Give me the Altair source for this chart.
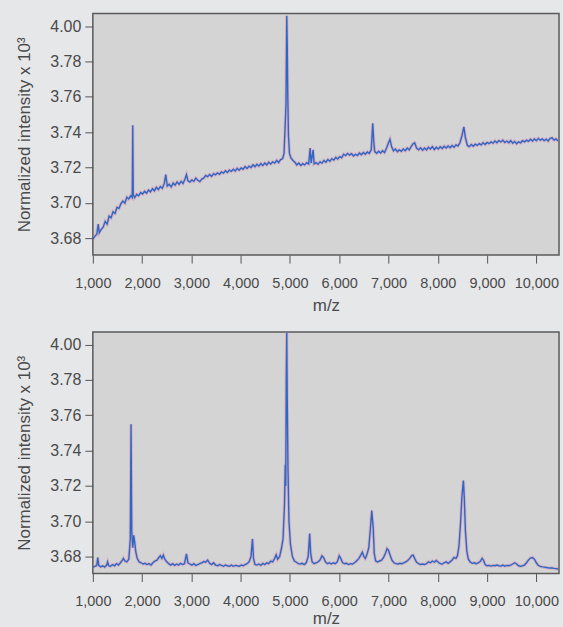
import altair as alt
import pandas as pd

# ---- Top panel spectrum (m/z, normalized intensity x10^3) ----
top_mz = [1000,1040,1080,1110,1130,1170,1210,1250,1290,1330,1370,1410,1450,1490,1530,1570,1610,1650,1690,1730,1770,1800,1810,1820,1850,1890,1930,1970,2010,2050,2090,2130,2170,2210,2250,2290,2330,2370,2410,2450,2480,2510,2550,2590,2630,2670,2710,2750,2790,2830,2870,2900,2930,2970,3010,3050,3090,3130,3170,3210,3250,3290,3330,3370,3410,3450,3490,3530,3570,3610,3650,3690,3730,3770,3810,3850,3890,3930,3970,4010,4050,4090,4130,4170,4210,4250,4290,4330,4370,4410,4450,4490,4530,4570,4610,4650,4690,4730,4770,4810,4850,4880,4905,4920,4935,4945,4955,4970,4990,5020,5060,5100,5140,5180,5220,5260,5300,5340,5380,5410,5430,5470,5490,5530,5570,5610,5650,5690,5730,5770,5810,5850,5890,5930,5970,6010,6050,6090,6130,6170,6210,6250,6290,6330,6370,6410,6450,6490,6530,6570,6610,6650,6680,6700,6720,6760,6800,6840,6880,6920,6960,7000,7030,7060,7100,7140,7180,7220,7260,7300,7340,7380,7420,7460,7500,7530,7570,7610,7650,7690,7730,7770,7810,7850,7890,7930,7970,8010,8050,8090,8130,8170,8210,8250,8290,8330,8370,8410,8450,8490,8530,8560,8600,8640,8680,8720,8760,8800,8840,8880,8920,8960,9000,9040,9080,9120,9160,9200,9240,9280,9320,9360,9400,9440,9480,9520,9560,9600,9640,9680,9720,9760,9800,9840,9880,9920,9960,10000,10040,10080,10120,10160,10200,10240,10280,10320,10360,10400,10440]
top_int = [3.6795,3.6810,3.6822,3.6880,3.6830,3.6850,3.6862,3.6895,3.6880,3.6925,3.6915,3.6950,3.6940,3.6975,3.6968,3.6995,3.7010,3.6998,3.7032,3.7022,3.7040,3.7030,3.7440,3.7045,3.7030,3.7048,3.7040,3.7058,3.7050,3.7065,3.7055,3.7072,3.7062,3.7080,3.7068,3.7088,3.7075,3.7092,3.7082,3.7110,3.7160,3.7095,3.7105,3.7090,3.7112,3.7100,3.7118,3.7105,3.7122,3.7110,3.7135,3.7160,3.7125,3.7118,3.7130,3.7122,3.7140,3.7128,3.7120,3.7135,3.7140,3.7155,3.7148,3.7160,3.7150,3.7165,3.7158,3.7170,3.7162,3.7175,3.7168,3.7182,3.7172,3.7185,3.7178,3.7190,3.7180,3.7195,3.7185,3.7198,3.7190,3.7205,3.7195,3.7208,3.7200,3.7215,3.7205,3.7218,3.7208,3.7222,3.7212,3.7225,3.7215,3.7230,3.7220,3.7232,3.7225,3.7240,3.7228,3.7245,3.7250,3.7280,3.7450,3.7560,3.8060,3.7900,3.7620,3.7380,3.7280,3.7255,3.7240,3.7230,3.7215,3.7225,3.7212,3.7222,3.7215,3.7228,3.7220,3.7310,3.7225,3.7300,3.7220,3.7228,3.7218,3.7232,3.7225,3.7240,3.7230,3.7245,3.7235,3.7250,3.7242,3.7258,3.7248,3.7262,3.7255,3.7275,3.7268,3.7280,3.7270,3.7278,3.7265,3.7275,3.7268,3.7282,3.7272,3.7285,3.7275,3.7288,3.7280,3.7300,3.7450,3.7350,3.7290,3.7280,3.7292,3.7282,3.7295,3.7285,3.7310,3.7340,3.7360,3.7320,3.7295,3.7305,3.7290,3.7300,3.7292,3.7305,3.7295,3.7310,3.7300,3.7318,3.7335,3.7340,3.7310,3.7300,3.7312,3.7298,3.7310,3.7300,3.7315,3.7305,3.7318,3.7302,3.7315,3.7305,3.7318,3.7308,3.7320,3.7310,3.7322,3.7312,3.7325,3.7315,3.7328,3.7322,3.7340,3.7380,3.7430,3.7370,3.7325,3.7318,3.7330,3.7320,3.7332,3.7325,3.7335,3.7328,3.7340,3.7330,3.7342,3.7335,3.7345,3.7338,3.7350,3.7340,3.7352,3.7345,3.7355,3.7342,3.7350,3.7340,3.7352,3.7338,3.7348,3.7335,3.7345,3.7340,3.7352,3.7345,3.7355,3.7348,3.7360,3.7350,3.7362,3.7352,3.7365,3.7355,3.7362,3.7352,3.7360,3.7350,3.7365,3.7368,3.7355,3.7362,3.7350]

# ---- Bottom panel spectrum ----
bot_mz = [1000,1040,1080,1100,1120,1160,1200,1240,1280,1300,1320,1360,1400,1440,1480,1520,1560,1600,1620,1650,1690,1730,1760,1775,1790,1810,1830,1850,1870,1900,1940,1980,2020,2060,2100,2140,2180,2220,2260,2300,2340,2370,2400,2430,2460,2500,2540,2580,2620,2660,2700,2740,2780,2820,2860,2900,2930,2970,3010,3050,3090,3130,3170,3210,3250,3290,3330,3370,3410,3450,3490,3530,3570,3610,3650,3690,3730,3770,3810,3850,3890,3930,3970,4010,4050,4090,4130,4170,4210,4240,4260,4290,4330,4370,4410,4450,4490,4530,4570,4610,4650,4690,4720,4750,4790,4830,4860,4890,4905,4915,4925,4935,4945,4960,4980,5010,5050,5090,5130,5170,5210,5250,5290,5330,5370,5400,5420,5450,5490,5530,5570,5610,5650,5680,5720,5760,5800,5840,5880,5920,5960,6000,6030,6070,6110,6150,6190,6230,6270,6310,6350,6400,6440,6470,6500,6530,6560,6600,6630,6660,6690,6710,6740,6780,6820,6860,6900,6940,6970,7000,7030,7070,7110,7150,7190,7230,7270,7310,7350,7390,7430,7470,7500,7530,7570,7610,7650,7690,7730,7770,7810,7850,7890,7930,7970,8010,8050,8090,8130,8170,8210,8250,8290,8330,8370,8400,8430,8460,8490,8520,8540,8560,8590,8620,8660,8700,8740,8780,8820,8860,8900,8930,8960,9000,9040,9080,9120,9160,9200,9240,9280,9320,9360,9400,9440,9480,9520,9560,9600,9640,9680,9720,9760,9800,9840,9880,9920,9960,10000,10040,10080,10120,10160,10200,10240,10280,10320,10360,10400,10440]
bot_int = [3.6740,3.6745,3.6750,3.6795,3.6750,3.6742,3.6748,3.6740,3.6752,3.6770,3.6748,3.6745,3.6755,3.6748,3.6760,3.6752,3.6765,3.6780,3.6790,3.6775,3.6770,3.6785,3.6900,3.7550,3.6940,3.6850,3.6920,3.6880,3.6830,3.6790,3.6770,3.6765,3.6758,3.6762,3.6755,3.6760,3.6752,3.6765,3.6775,3.6780,3.6795,3.6805,3.6790,3.6808,3.6785,3.6770,3.6760,3.6752,3.6760,3.6750,3.6758,3.6752,3.6762,3.6755,3.6760,3.6815,3.6765,3.6758,3.6752,3.6760,3.6750,3.6755,3.6760,3.6765,3.6772,3.6768,3.6780,3.6762,3.6755,3.6765,3.6752,3.6748,3.6755,3.6750,3.6745,3.6752,3.6748,3.6745,3.6752,3.6745,3.6750,3.6748,3.6745,3.6752,3.6748,3.6755,3.6760,3.6770,3.6800,3.6900,3.6790,3.6755,3.6752,3.6758,3.6750,3.6762,3.6755,3.6765,3.6760,3.6775,3.6770,3.6790,3.6810,3.6785,3.6800,3.6850,3.6900,3.7100,3.7320,3.7200,3.7800,3.8070,3.7700,3.7300,3.7000,3.6870,3.6800,3.6775,3.6768,3.6760,3.6758,3.6762,3.6755,3.6765,3.6800,3.6930,3.6820,3.6770,3.6760,3.6765,3.6770,3.6780,3.6805,3.6795,3.6770,3.6760,3.6765,3.6758,3.6765,3.6760,3.6770,3.6805,3.6790,3.6765,3.6760,3.6762,3.6755,3.6760,3.6758,3.6765,3.6775,3.6790,3.6810,3.6825,3.6800,3.6790,3.6810,3.6850,3.6950,3.7060,3.6960,3.6820,3.6775,3.6770,3.6775,3.6780,3.6795,3.6820,3.6845,3.6835,3.6810,3.6780,3.6765,3.6760,3.6758,3.6762,3.6760,3.6765,3.6770,3.6778,3.6790,3.6805,3.6808,3.6790,3.6768,3.6760,3.6755,3.6758,3.6755,3.6760,3.6770,3.6765,3.6775,3.6768,3.6778,3.6768,3.6760,3.6758,3.6765,3.6770,3.6762,3.6770,3.6780,3.6795,3.6790,3.6805,3.6860,3.6980,3.7140,3.7230,3.7120,3.6950,3.6830,3.6785,3.6768,3.6762,3.6765,3.6760,3.6765,3.6772,3.6790,3.6778,3.6755,3.6748,3.6750,3.6746,3.6750,3.6748,3.6752,3.6748,3.6746,3.6752,3.6746,3.6750,3.6748,3.6752,3.6758,3.6765,3.6758,3.6748,3.6745,3.6748,3.6752,3.6765,3.6780,3.6792,3.6795,3.6785,3.6765,3.6750,3.6745,3.6742,3.6740,3.6738,3.6736,3.6735,3.6736,3.6733,3.6732,3.6730]

x_ticks = [1000, 2000, 3000, 4000, 5000, 6000, 7000, 8000, 9000, 10000]
y_ticks = [3.68, 3.70, 3.72, 3.74, 3.76, 3.78, 3.80]
y_title = "Normalized intensity x 10³"
x_title = "m/z"

FONT = "Liberation Sans"
TXT = "#4a4a4a"


def panel(mz, inten, title_pad):
    df = pd.DataFrame({"mz": mz, "v": inten})
    x = alt.X("mz:Q", title=x_title,
              scale=alt.Scale(domain=[1000, 10460], nice=False, zero=False),
              axis=alt.Axis(values=x_ticks, format=",d", labelFontSize=14.5,
                            titleFontSize=17, titleFontWeight="normal",
                            labelPadding=13, titlePadding=title_pad, grid=False,
                            tickSize=8, tickColor="#555555", domain=False,
                            labelColor=TXT, titleColor=TXT, labelFont=FONT,
                            titleFont=FONT, labelOverlap=False, labelFlush=False))
    y = alt.Y("v:Q", title=y_title,
              scale=alt.Scale(domain=[3.6704, 3.8072], nice=False, zero=False),
              axis=alt.Axis(values=y_ticks, labelFontSize=16,
                            labelExpr="datum.value > 3.799 ? '4.00' : format(datum.value, '.2f')",
                            titleFontSize=17, titleFontWeight="normal",
                            labelPadding=4, titlePadding=16, grid=False,
                            tickSize=8, tickColor="#555555", domain=False,
                            labelColor=TXT, titleColor=TXT, labelFont=FONT,
                            titleFont=FONT, labelFlush=False))
    base = alt.Chart(df)
    halo = base.mark_line(color="#d58fb5", strokeWidth=3.2, opacity=0.5,
                          clip=True).encode(x=x, y=y)
    line = base.mark_line(color="#2f66c4", strokeWidth=1.4, clip=True).encode(x=x, y=y)
    return (halo + line).properties(width=467, height=242)


chart = alt.vconcat(panel(top_mz, top_int, 8), panel(bot_mz, bot_int, 3), spacing=16).properties(
    background="#e6e7e9",
    padding={"left": 15, "top": 12, "right": 3, "bottom": 2},
).configure_view(fill="#d4d4d4", stroke="#5a5a5a", strokeWidth=1.5)

chart.save("out.html", embed_options={"renderer": "svg", "actions": False})
